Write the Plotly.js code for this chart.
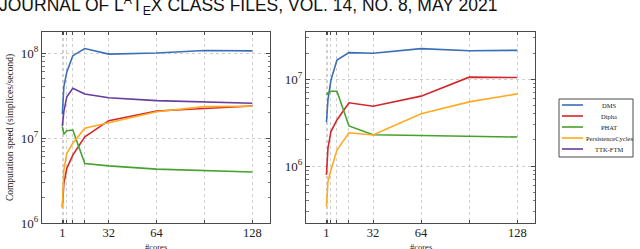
<!DOCTYPE html>
<html><head><meta charset="utf-8">
<script src="https://cdn.plot.ly/plotly-3.0.1.min.js"></script>
<style>html,body{margin:0;padding:0;background:#fff;overflow:hidden}#chart{width:640px;height:249px}</style>
</head><body><div id="chart"></div>
<script>
// ---- data ----
const cores = [1, 2, 4, 8, 16, 32, 64, 96, 128];
const labeledCores = [1, 32, 64, 128];
const gridOnlyCores = [2, 4, 8, 16, 96];
const seriesNames = ['DMS', 'Dipha', 'PHAT', 'PersistenceCycles', 'TTK-FTM'];
const seriesColors = ['#3a6fb6', '#d2282b', '#45a22c', '#ffaa20', '#673d9f'];

// left panel (simplices / second)
const leftDMS   = [1.9e7, 4.0e7, 6.0e7, 9.3e7, 1.13e8, 9.7e7, 1.0e8, 1.07e8, 1.06e8];
const leftDipha = [1.55e6, 2.9e6, 4.4e6, 6.3e6, 1.03e7, 1.6e7, 2.08e7, 2.24e7, 2.38e7];
const leftPHAT  = [1.36e7, 1.11e7, 1.22e7, 1.24e7, 5.0e6, 4.7e6, 4.3e6, 4.1e6, 3.98e6];
const leftPC    = [1.49e6, 4.2e6, 6.6e6, 8.7e6, 1.3e7, 1.51e7, 2.04e7, 2.34e7, 2.36e7];
const leftTTK   = [1.38e7, 2.04e7, 3.06e7, 3.84e7, 3.3e7, 2.98e7, 2.75e7, 2.66e7, 2.56e7];

// right panel
const rightDMS   = [3.2e6, 5.8e6, 9.8e6, 1.67e7, 2.03e7, 2.0e7, 2.26e7, 2.14e7, 2.16e7];
const rightDipha = [7.9e5, 1.6e6, 2.5e6, 3.4e6, 5.37e6, 4.9e6, 6.4e6, 1.06e7, 1.05e7];
const rightPHAT  = [6.6e6, 7.0e6, 7.3e6, 7.3e6, 2.9e6, 2.3e6, 2.25e6, 2.22e6, 2.16e6];
const rightPC    = [3.4e5, 6.6e5, 9.0e5, 1.53e6, 2.42e6, 2.28e6, 4.0e6, 5.5e6, 6.8e6];

const yDecadesLeft = [6, 7, 8];
const yDecadesRight = [5, 6, 7];
const headerText = 'JOURNAL OF L<sup>A</sup>T<sub>E</sub>X CLASS FILES, VOL. 14, NO. 8, MAY 2021';
const yTitle = 'Computation speed (simplices/second)';
const xTitle = '#cores';

// ---- build ----
const leftSeries = [leftDMS, leftDipha, leftPHAT, leftPC, leftTTK];
const rightSeries = [rightDMS, rightDipha, rightPHAT, rightPC, null];
const traces = [];
leftSeries.forEach((ys, i) => {
  traces.push({x: cores, y: ys, xaxis: 'x', yaxis: 'y', mode: 'lines', name: seriesNames[i],
    line: {color: seriesColors[i], width: 1.6}, showlegend: false});
});
rightSeries.forEach((ys, i) => {
  if (!ys) return;
  traces.push({x: cores, y: ys, xaxis: 'x2', yaxis: 'y2', mode: 'lines', name: seriesNames[i],
    line: {color: seriesColors[i], width: 1.6}, showlegend: false});
});

const serif = 'Liberation Serif, Times New Roman, serif';
const frame = '#4a4a4a';
const gridCol = '#cfcfcf';
function minorVals(decs) {
  const v = [];
  for (let d = decs[0] - 1; d <= decs[decs.length - 1] + 1; d++)
    for (let m = 2; m <= 9; m++) v.push(m * Math.pow(10, d));
  return v;
}
function xAxis(domain, anchor) {
  return {domain: domain, anchor: anchor, range: [-12.6, 139.8], tickmode: 'array',
    tickvals: labeledCores, ticks: 'inside', ticklen: 3, tickcolor: frame,
    minor: {tickmode: 'array', tickvals: gridOnlyCores, ticks: 'inside', ticklen: 3, tickcolor: frame,
      showgrid: true, gridcolor: gridCol, griddash: '3px,3px', gridwidth: 1},
    showline: true, linecolor: frame, linewidth: 1, mirror: 'ticks', zeroline: false,
    showgrid: true, gridcolor: gridCol, griddash: '3px,3px', gridwidth: 1,
    ticklabelstandoff: -2,
    tickfont: {family: serif, size: 12.5, color: '#222'}};
}
function yAxis(domain, anchor, decs, range, withTitle) {
  const ax = {domain: domain, anchor: anchor, type: 'log', range: range, tickmode: 'array',
    tickvals: decs.map(d => Math.pow(10, d)),
    ticktext: decs.map(d => '10<sup>' + d + '</sup>'),
    ticks: 'inside', ticklen: 4, tickcolor: frame,
    minor: {tickmode: 'array', tickvals: minorVals(decs), ticks: 'inside', ticklen: 2.5,
      tickcolor: '#777', showgrid: false},
    showline: true, linecolor: frame, linewidth: 1, mirror: 'ticks', zeroline: false,
    showgrid: true, gridcolor: gridCol, griddash: '3px,3px', gridwidth: 1,
    tickfont: {family: serif, size: 13, color: '#222'}};
  if (withTitle) ax.title = {text: yTitle, font: {family: serif, size: 9.5, color: '#222'}, standoff: 5};
  return ax;
}

const H = 249, W = 640;
const py = p => (H - p) / H, px = p => p / W;
const panels = [{left: 42, right: 270}, {left: 306, right: 535}];
const shapes = [];
const annotations = [];
// x-axis titles, centred under each panel
panels.forEach(p => {
  annotations.push({xref: 'paper', yref: 'paper', x: px((p.left + p.right) / 2), y: py(246.5),
    xanchor: 'center', yanchor: 'middle', text: xTitle, showarrow: false,
    font: {family: serif, size: 8.5, color: '#222'}});
});
// legend box
const lg = {left: 559, right: 633, top: 99, bottom: 157, firstRow: 105, step: 11, lineL: 562, lineR: 583, textC: 609};
shapes.push({type: 'rect', xref: 'paper', yref: 'paper', x0: px(lg.left), x1: px(lg.right),
  y0: py(lg.bottom), y1: py(lg.top), line: {color: frame, width: 1}, fillcolor: '#fff'});
seriesNames.forEach((n, i) => {
  const yy = py(lg.firstRow + i * lg.step);
  shapes.push({type: 'line', xref: 'paper', yref: 'paper', x0: px(lg.lineL), x1: px(lg.lineR),
    y0: yy, y1: yy, line: {color: seriesColors[i], width: 1.6}});
  annotations.push({xref: 'paper', yref: 'paper', x: px(lg.textC), y: yy, xanchor: 'center', yanchor: 'middle',
    text: n, showarrow: false, font: {family: serif, size: 6.5, color: '#222'}});
});
annotations.push({xref: 'paper', yref: 'paper', x: px(-3), y: py(5), xanchor: 'left', yanchor: 'middle',
  text: headerText, showarrow: false, font: {family: 'Liberation Sans, Arial, sans-serif', size: 17.5, color: '#111'}});

const layout = {
  width: W, height: H, margin: {l: 0, r: 0, t: 0, b: 0}, paper_bgcolor: '#fff', plot_bgcolor: '#fff',
  showlegend: false,
  xaxis: xAxis([px(panels[0].left), px(panels[0].right)], 'y'),
  yaxis: yAxis([py(223), py(32)], 'x', yDecadesLeft, [6, 8.247], true),
  xaxis2: xAxis([px(panels[1].left), px(panels[1].right)], 'y2'),
  yaxis2: yAxis([py(223), py(32)], 'x2', yDecadesRight, [5.343, 7.546], false),
  shapes: shapes, annotations: annotations
};
Plotly.newPlot('chart', traces, layout, {staticPlot: true});
</script></body></html>
